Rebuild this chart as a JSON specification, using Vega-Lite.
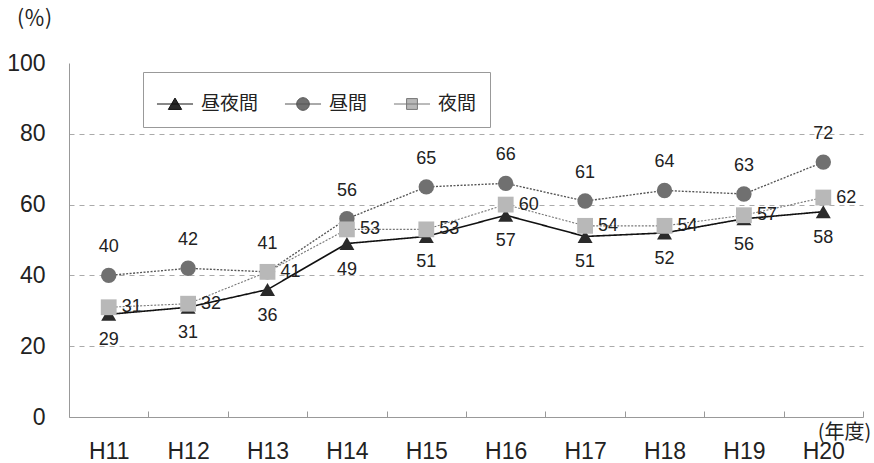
{
  "$schema": "https://vega.github.io/schema/vega-lite/v6.json",
  "width": 794,
  "height": 354,
  "autosize": "none",
  "padding": {"left": 69, "top": 63, "right": 11, "bottom": 46},
  "background": "white",
  "config": {
    "view": {"stroke": null},
    "font": "Liberation Sans"
  },
  "data": {
    "values": [
      {"year": "H11", "series": "昼夜間", "value": 29},
      {"year": "H12", "series": "昼夜間", "value": 31},
      {"year": "H13", "series": "昼夜間", "value": 36},
      {"year": "H14", "series": "昼夜間", "value": 49},
      {"year": "H15", "series": "昼夜間", "value": 51},
      {"year": "H16", "series": "昼夜間", "value": 57},
      {"year": "H17", "series": "昼夜間", "value": 51},
      {"year": "H18", "series": "昼夜間", "value": 52},
      {"year": "H19", "series": "昼夜間", "value": 56},
      {"year": "H20", "series": "昼夜間", "value": 58},
      {"year": "H11", "series": "昼間", "value": 40},
      {"year": "H12", "series": "昼間", "value": 42},
      {"year": "H13", "series": "昼間", "value": 41},
      {"year": "H14", "series": "昼間", "value": 56},
      {"year": "H15", "series": "昼間", "value": 65},
      {"year": "H16", "series": "昼間", "value": 66},
      {"year": "H17", "series": "昼間", "value": 61},
      {"year": "H18", "series": "昼間", "value": 64},
      {"year": "H19", "series": "昼間", "value": 63},
      {"year": "H20", "series": "昼間", "value": 72},
      {"year": "H11", "series": "夜間", "value": 31},
      {"year": "H12", "series": "夜間", "value": 32},
      {"year": "H13", "series": "夜間", "value": 41},
      {"year": "H14", "series": "夜間", "value": 53},
      {"year": "H15", "series": "夜間", "value": 53},
      {"year": "H16", "series": "夜間", "value": 60},
      {"year": "H17", "series": "夜間", "value": 54},
      {"year": "H18", "series": "夜間", "value": 54},
      {"year": "H19", "series": "夜間", "value": 57},
      {"year": "H20", "series": "夜間", "value": 62}
    ]
  },
  "encoding": {
    "x": {
      "field": "year", "type": "ordinal", "sort": null,
      "scale": {"type": "band", "paddingInner": 0, "paddingOuter": 0},
      "bandPosition": 0.5,
      "axis": {
        "title": "(年度)", "titleX": 775, "titleY": 15, "titleAlign": "center", "titleBaseline": "middle",
        "titleFont": "Noto Sans CJK JP", "titleFontSize": 20, "titleFontWeight": "normal", "titleColor": "#222",
        "labelAngle": 0, "labelFontSize": 23, "labelColor": "#222", "labelPadding": 29,
        "tickBand": "extent", "tickSize": -6, "tickColor": "#999", "domainColor": "#999", "grid": false
      }
    },
    "y": {
      "field": "value", "type": "quantitative",
      "scale": {"domain": [0, 100]},
      "axis": {
        "title": "(％)", "titleAngle": 0, "titleX": -35, "titleY": -45, "titleAlign": "center", "titleBaseline": "middle",
        "titleFont": "Noto Sans CJK JP", "titleFontSize": 21, "titleFontWeight": "normal", "titleColor": "#222",
        "values": [0, 20, 40, 60, 80, 100],
        "labelFontSize": 23, "labelColor": "#222", "labelPadding": 24, "ticks": false,
        "domainColor": "#999",
        "grid": true, "gridDash": [5, 5], "gridColor": "#aaa",
        "gridOpacity": {"condition": {"test": "datum.value === 100 || datum.value === 0", "value": 0}, "value": 1}
      }
    }
  },
  "layer": [
    {
      "mark": {"type": "line"},
      "encoding": {
        "stroke": {"field": "series", "type": "nominal", "scale": {"domain": ["昼夜間", "昼間", "夜間"], "range": ["#111111", "#555555", "#777777"]}, "legend": null},
        "strokeDash": {"field": "series", "type": "ordinal", "scale": {"domain": ["昼夜間", "昼間", "夜間"], "range": [[1, 0], [2, 1.5], [2, 1.5]]}, "legend": null},
        "strokeWidth": {"field": "series", "type": "ordinal", "scale": {"domain": ["昼夜間", "昼間", "夜間"], "range": [1.6, 1.1, 1.2]}, "legend": null}
      }
    },
    {
      "mark": {"type": "point", "filled": true, "opacity": 1},
      "encoding": {
        "shape": {"field": "series", "type": "nominal", "scale": {"domain": ["昼夜間", "昼間", "夜間"], "range": ["triangle-up", "circle", "square"]}, "legend": null},
        "color": {"field": "series", "type": "nominal", "scale": {"domain": ["昼夜間", "昼間", "夜間"], "range": ["#2a2a2a", "#707070", "#b8b8b8"]}, "legend": null},
        "size": {"field": "series", "type": "ordinal", "scale": {"domain": ["昼夜間", "昼間", "夜間"], "range": [225, 250, 150]}, "legend": null}
      }
    },
    {
      "transform": [{"filter": "datum.series === '昼夜間'"}],
      "mark": {"type": "text", "dy": 26, "fontSize": 18, "color": "#222"},
      "encoding": {"text": {"field": "value", "type": "quantitative"}}
    },
    {
      "transform": [{"filter": "datum.series === '昼間'"}],
      "mark": {"type": "text", "dy": -28, "fontSize": 18, "color": "#222"},
      "encoding": {"text": {"field": "value", "type": "quantitative"}}
    },
    {
      "transform": [{"filter": "datum.series === '夜間'"}],
      "mark": {"type": "text", "dx": 13, "align": "left", "fontSize": 18, "color": "#222"},
      "encoding": {"text": {"field": "value", "type": "quantitative"}}
    },
    {
      "transform": [{"filter": "false"}],
      "mark": {"type": "point", "filled": true, "opacity": 1, "strokeWidth": 1},
      "encoding": {
        "shape": {
          "field": "series", "type": "nominal",
          "scale": {"domain": ["昼夜間", "昼間", "夜間"], "range": [
            "M-1,0H1M0,-0.33L0.37,0.3L-0.37,0.3Z",
            "M-1,0H1M0.35,0A0.35,0.35 0 1,1 -0.35,0A0.35,0.35 0 1,1 0.35,0Z",
            "M-1,0H1M-0.3,-0.3H0.3V0.3H-0.3Z"
          ]},
          "legend": {"title": null, "orient": "none", "legendX": 74, "legendY": 9, "direction": "horizontal", "strokeColor": "#999", "fillColor": "white", "padding": 13, "symbolSize": 1300, "symbolStrokeWidth": 1, "labelFont": "Noto Sans CJK JP", "labelFontSize": 19, "labelColor": "#222", "labelOffset": 7, "columnPadding": 23}
        },
        "fill": {
          "field": "series", "type": "nominal",
          "scale": {"domain": ["昼夜間", "昼間", "夜間"], "range": ["#2a2a2a", "#707070", "#b8b8b8"]},
          "legend": {"title": null, "orient": "none", "legendX": 74, "legendY": 9, "direction": "horizontal", "strokeColor": "#999", "fillColor": "white", "padding": 13, "symbolSize": 1300, "symbolStrokeWidth": 1, "labelFont": "Noto Sans CJK JP", "labelFontSize": 19, "labelColor": "#222", "labelOffset": 7, "columnPadding": 23}
        },
        "stroke": {
          "field": "series", "type": "nominal",
          "scale": {"domain": ["昼夜間", "昼間", "夜間"], "range": ["#111111", "#555555", "#777777"]},
          "legend": {"title": null, "orient": "none", "legendX": 74, "legendY": 9, "direction": "horizontal", "strokeColor": "#999", "fillColor": "white", "padding": 13, "symbolSize": 1300, "symbolStrokeWidth": 1, "labelFont": "Noto Sans CJK JP", "labelFontSize": 19, "labelColor": "#222", "labelOffset": 7, "columnPadding": 23}
        }
      }
    }
  ],
  "resolve": {"scale": {"shape": "independent", "fill": "independent", "stroke": "independent"}}
}
